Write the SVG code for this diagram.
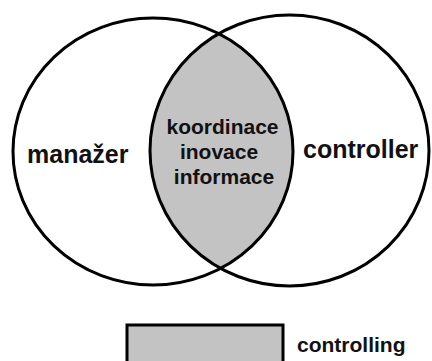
<svg xmlns="http://www.w3.org/2000/svg" width="432" height="361" viewBox="0 0 432 361">
  <style>
    .outline { fill: none; stroke: #000; stroke-width: 3; }
    .lbl { font-family: "Liberation Sans", Arial, sans-serif; font-weight: bold; fill: #111; }
    .big { font-size: 25px; }
    .mid { font-size: 21px; }
    .shade { fill: #c3c3c3; }
  </style>
  <defs>
    <clipPath id="clipLeft">
      <ellipse cx="153" cy="151.5" rx="140" ry="133.5"/>
    </clipPath>
  </defs>
  <rect width="432" height="361" fill="#fff"/>
  <g id="overlap">
    <ellipse class="shade" cx="289.5" cy="150.5" rx="139.5" ry="135.5" clip-path="url(#clipLeft)"/>
  </g>
  <g id="manazer">
    <ellipse class="outline" cx="153" cy="151.5" rx="140" ry="133.5"/>
    <text class="lbl big" x="27" y="163">manažer</text>
  </g>
  <g id="controller">
    <ellipse class="outline" cx="289.5" cy="150.5" rx="139.5" ry="135.5"/>
    <text class="lbl big" x="303" y="158">controller</text>
  </g>
  <g id="overlap-text">
    <text class="lbl mid" text-anchor="middle" x="222.5" y="134">koordinace</text>
    <text class="lbl mid" text-anchor="middle" x="219" y="159">inovace</text>
    <text class="lbl mid" text-anchor="middle" x="224" y="184">informace</text>
  </g>
  <g id="legend">
    <rect class="shade" x="127" y="325" width="156" height="50" stroke="#000" stroke-width="3"/>
    <text class="lbl mid" x="297" y="352">controlling</text>
  </g>
</svg>
